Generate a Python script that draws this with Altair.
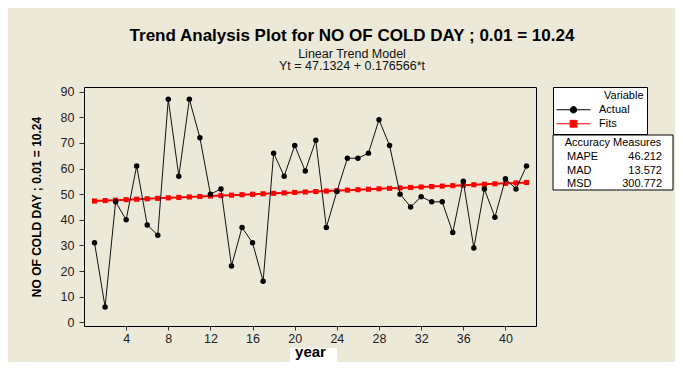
import altair as alt
import pandas as pd

# ---------------- data ----------------
years = list(range(1, 43))
actual = [31, 6, 47, 40, 61, 38, 34, 87, 57, 87,
          72, 50, 52, 22, 37, 31, 16, 66, 57, 69,
          59, 71, 37, 51, 64, 64, 66, 79, 69, 50,
          45, 49, 47, 47, 35, 55, 29, 52, 41, 56,
          52, 61]
fits = [47.31, 47.49, 47.66, 47.84, 48.02, 48.19, 48.37, 48.55, 48.72, 48.90,
        49.07, 49.25, 49.43, 49.60, 49.78, 49.96, 50.13, 50.31, 50.49, 50.66,
        50.84, 51.02, 51.19, 51.37, 51.55, 51.72, 51.90, 52.08, 52.25, 52.43,
        52.61, 52.78, 52.96, 53.14, 53.31, 53.49, 53.67, 53.84, 54.02, 54.20,
        54.37, 54.55]
x_ticks = [4, 8, 12, 16, 20, 24, 28, 32, 36, 40]
y_ticks = [0, 10, 20, 30, 40, 50, 60, 70, 80, 90]
variables = ["Actual", "Fits"]
variable_colors = ["#000000", "#FF0000"]
measure_names = ["MAPE", "MAD", "MSD"]
measure_values = ["46.212", "13.572", "300.772"]
title_text = "Trend Analysis Plot for NO OF COLD DAY ; 0.01 = 10.24"
subtitle_lines = ["Linear Trend Model", "Yt = 47.1324 + 0.176566*t"]
x_title = "year"
y_title = "NO OF COLD DAY ; 0.01 = 10.24"

df = pd.DataFrame({"year": years, "Actual": actual, "Fits": fits})
one = pd.DataFrame({"k": [0]})

W, H = 452, 239
FONT = "Liberation Sans, Arial, sans-serif"
BG = "#ECE9D8"

x_axis = alt.Axis(values=x_ticks, title=x_title, grid=False, domain=False,
                  tickSize=4, tickColor="#333", labelPadding=2,
                  labelFont=FONT, labelFontSize=12.5, labelColor="#222",
                  titleFont=FONT, titleFontSize=15, titleFontWeight="bold",
                  titleColor="#000", titlePadding=0, zindex=1)
y_axis = alt.Axis(values=y_ticks, title=y_title, grid=False, domain=False,
                  tickSize=5, tickColor="#333", labelPadding=5,
                  labelFont=FONT, labelFontSize=12.5, labelColor="#222",
                  titleFont=FONT, titleFontSize=12, titleFontWeight="bold",
                  titleColor="#000", titlePadding=17, zindex=1)
x_scale = alt.Scale(domain=[0, 42.9], nice=False, zero=False)
y_scale = alt.Scale(domain=[-1.45, 91.8], nice=False, zero=False)


def xe():
    return alt.X("year:Q", scale=x_scale, axis=x_axis)


def ye(field):
    return alt.Y(f"{field}:Q", scale=y_scale, axis=y_axis)


base = alt.Chart(df)

fits_line = base.mark_line(color="#FF0000", strokeWidth=2).encode(x=xe(), y=ye("Fits"))
fits_pts = base.mark_point(shape="square", filled=True, size=26, color="#FF0000",
                           opacity=1).encode(x=xe(), y=ye("Fits"))
act_line = base.mark_line(color="#111111", strokeWidth=1).encode(x=xe(), y=ye("Actual"))
act_pts = base.mark_point(shape="circle", filled=True, size=30, color="#000000",
                          opacity=1).encode(x=xe(), y=ye("Actual"))

# legend "Variable" (real legend driven by an empty layer)
path_actual = "M-1,0H1M0.19,0A0.19,0.19,0,1,1,-0.19,0A0.19,0.19,0,1,1,0.19,0Z"
path_fits = "M-1,0H1M-0.2,-0.2H0.2V0.2H-0.2Z"
leg = alt.Legend(title="\u2800" * 6 + "Variable", orient="none",
                 legendX=469, legendY=0, fillColor="white", strokeColor="black",
                 padding=3, cornerRadius=0, titleFont=FONT, titleFontSize=11,
                 titleFontWeight="normal", titleColor="#000", titleAnchor="start",
                 titlePadding=2, labelFont=FONT, labelFontSize=11, labelColor="#000",
                 labelOffset=8, symbolSize=1156, symbolStrokeWidth=1,
                 clipHeight=13.5, rowPadding=0, zindex=1,
                 labelExpr="datum.label + '            '")
legend_layer = alt.Chart(pd.DataFrame({"Variable": variables})).transform_filter(
    "false").mark_point(opacity=1, size=1156, strokeWidth=1).encode(
    shape=alt.Shape("Variable:N", scale=alt.Scale(domain=variables,
                                                  range=[path_actual, path_fits]), legend=leg),
    fill=alt.Fill("Variable:N", scale=alt.Scale(domain=variables, range=variable_colors),
                  legend=leg),
    stroke=alt.Stroke("Variable:N", scale=alt.Scale(domain=variables, range=variable_colors),
                      legend=leg),
)

# Accuracy measures box (annotation)
acc_box = alt.Chart(one).mark_rect(fill="white", stroke="black", strokeWidth=1).encode(
    x=alt.value(469), x2=alt.value(589), y=alt.value(48), y2=alt.value(103))
acc_title = alt.Chart(one).mark_text(align="center", baseline="top", font=FONT,
                                     fontSize=11, color="#000").encode(
    x=alt.value(529), y=alt.value(50), text=alt.value("Accuracy Measures"))
acc_names = alt.Chart(one).mark_text(align="left", baseline="top", font=FONT,
                                     fontSize=11, color="#000", lineHeight=13.5).encode(
    x=alt.value(483), y=alt.value(64), text=alt.value(measure_names))
acc_vals = alt.Chart(one).mark_text(align="right", baseline="top", font=FONT,
                                    fontSize=11, color="#000", lineHeight=13.5).encode(
    x=alt.value(578), y=alt.value(64), text=alt.value(measure_values))

# white label box behind the x-axis title
year_box = alt.Chart(one).mark_rect(fill="white").encode(
    x=alt.value(206), x2=alt.value(253), y=alt.value(261), y2=alt.value(275))

chart = alt.layer(
    year_box, fits_line, fits_pts, act_line, act_pts, legend_layer,
    acc_box, acc_title, acc_names, acc_vals,
).properties(
    width=W, height=H,
    autosize=alt.AutoSizeParams(type="none"),
    padding={"left": 76, "top": 79, "right": 139, "bottom": 36},
    title=alt.Title(text=title_text, subtitle=subtitle_lines, anchor="middle",
                    frame="group", dx=42, offset=12, font=FONT, fontSize=17,
                    fontWeight="bold", color="#000", subtitleFont=FONT,
                    subtitleFontSize=12.5, subtitleColor="#111", subtitlePadding=3,
                    subtitleLineHeight=12.5, zindex=1),
).configure(
    background=BG,
).configure_view(
    fill="white", stroke="black", strokeWidth=1,
)

chart.save("out.html", embed_options={"renderer": "svg", "actions": False})
